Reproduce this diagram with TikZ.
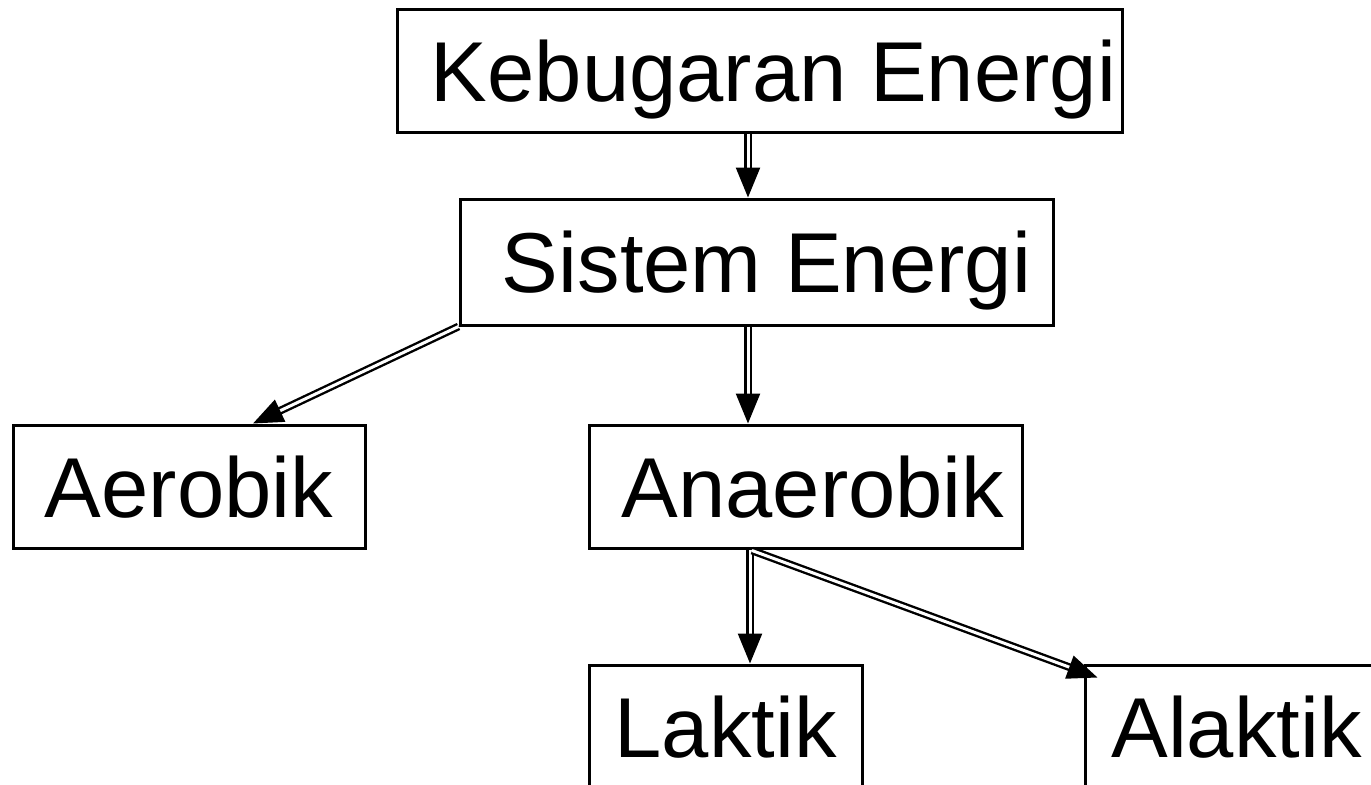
\documentclass[tikz,border=0pt]{standalone}
\usepackage{fontspec}
\setmainfont{Liberation Sans}
\usetikzlibrary{arrows.meta,calc}
\begin{document}
\begin{tikzpicture}[x=0.5pt,y=-0.5pt,
  box/.style={draw, line width=1.5pt, inner sep=0pt, text height=30.5pt, text depth=0pt,
    font=\fontsize{42.5pt}{50pt}\selectfont, minimum height=61.5pt},
  dbl/.style={double, line width=1.2pt, double distance=1.5pt,
    -{Triangle[length=15pt,width=12pt]}}]
\useasboundingbox (0,0) rectangle (1371,784);
\clip (0,0) rectangle (1371,784);
\node[box, minimum width=362.5pt] (keb) at (759.5,70.5) {\hspace*{14pt}Kebugaran Energi};
\node[box, minimum width=296.5pt, minimum height=63pt] (sis) at (756.5,262) {\hspace*{10pt}Sistem Energi};
\node[box, minimum width=176pt] (aer) at (189,486.5) {Aerobik};
\node[box, minimum width=216.5pt] (ana) at (805.5,486.5) {\hspace*{7.5pt}Anaerobik};
\node[box, minimum width=136.5pt] (lak) at (725.5,726.5) {Laktik};
\node[box, minimum width=151.5pt] (alak) at (1236.5,726.5) {Alaktik};
\coordinate (v1) at (748,0);
\coordinate (v2) at (750,0);
\coordinate (v3) at (253,0);
\draw[dbl] (v1 |- keb.south) -- (v1 |- sis.north);
\draw[dbl] (sis.south west) -- (v3 |- aer.north);
\draw[dbl] (v1 |- sis.south) -- (v1 |- ana.north);
\draw[dbl] (v2 |- ana.south) -- (v2 |- lak.north);
\draw[dbl] ($(v2 |- ana.south)+(2,1)$) -- ($(alak.north west)+(14,14)$);
\end{tikzpicture}
\end{document}
